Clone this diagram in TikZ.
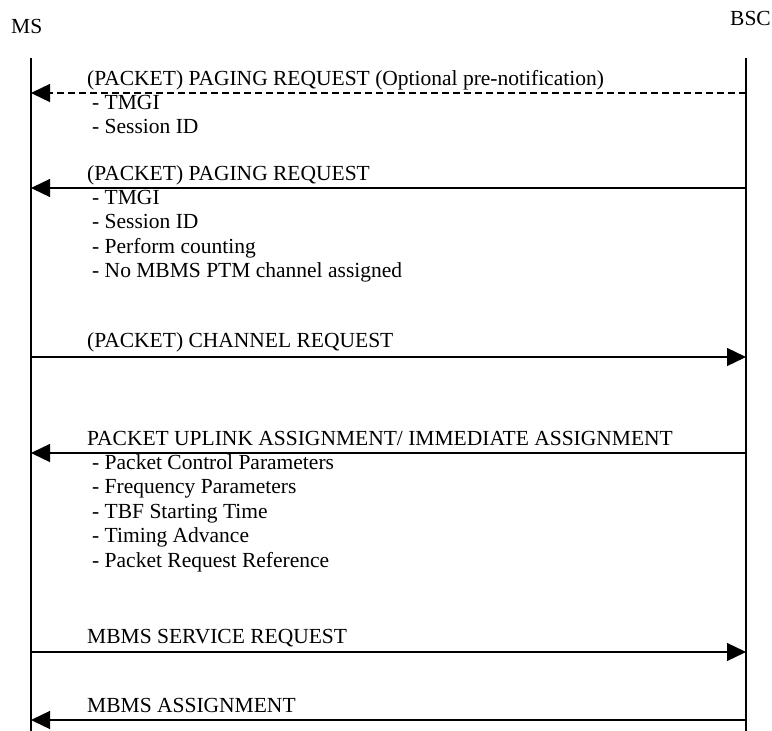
\documentclass[tikz,border=0pt]{standalone}
\usepackage{fontspec}
\setmainfont{Liberation Serif}
\usetikzlibrary{arrows.meta,positioning}

\tikzset{
  lifeline/.style={line width=1.3pt},
  msg/.style={line width=1.3pt, -{Triangle[length=19pt,width=18pt]}},
  optmsg/.style={msg, dash pattern=on 7pt off 4pt},
  lbl/.style={anchor=base west, inner sep=0pt, font=\fontsize{21.5}{24}\selectfont},
  nextline/.style={lbl, below=24.5pt of #1.base west, anchor=base west}
}

\begin{document}
\begin{tikzpicture}[x=1pt, y=-1pt]
\useasboundingbox (0,0) rectangle (772,731);

% entities
\node [lbl] (ms) at (11,33) {MS};
\node [lbl] (bsc) at (730,25) {BSC};
\coordinate (mstop) at (31,58);
\coordinate (msbot) at (31,731);
\coordinate (bsctop) at (746,58);
\coordinate (bscbot) at (746,731);
\draw [lifeline] (mstop) -- (msbot);
\draw [lifeline] (bsctop) -- (bscbot);

% optional pre-notification
\coordinate (ms1) at (31,93);
\coordinate (bsc1) at (746,93);
\draw [optmsg] (bsc1) -- (ms1);
\node [lbl] (pn) at (87,85) {(PACKET) PAGING REQUEST (Optional pre-notification)};
\node [lbl] (pn1) at (92,109) {- TMGI};
\node [nextline=pn1] (pn2) {- Session ID};

% paging
\coordinate (ms2) at (31,188);
\coordinate (bsc2) at (746,188);
\draw [msg] (bsc2) -- (ms2);
\node [lbl] (pg) at (87,180) {(PACKET) PAGING REQUEST};
\node [lbl] (pg1) at (92,204) {- TMGI};
\node [nextline=pg1] (pg2) {- Session ID};
\node [nextline=pg2] (pg3) {- Perform counting};
\node [nextline=pg3] (pg4) {- No MBMS PTM channel assigned};

% channel request
\coordinate (ms3) at (31,357);
\coordinate (bsc3) at (746,357);
\draw [msg] (ms3) -- (bsc3);
\node [lbl] (cr) at (87,347) {(PACKET) CHANNEL REQUEST};

% assignment
\coordinate (ms4) at (31,453);
\coordinate (bsc4) at (746,453);
\draw [msg] (bsc4) -- (ms4);
\node [lbl] (ua) at (87,445) {PACKET UPLINK ASSIGNMENT/ IMMEDIATE ASSIGNMENT};
\node [lbl] (ua1) at (92,469) {- Packet Control Parameters};
\node [nextline=ua1] (ua2) {- Frequency Parameters};
\node [nextline=ua2] (ua3) {- TBF Starting Time};
\node [nextline=ua3] (ua4) {- Timing Advance};
\node [nextline=ua4] (ua5) {- Packet Request Reference};

% service request
\coordinate (ms5) at (31,652);
\coordinate (bsc5) at (746,652);
\draw [msg] (ms5) -- (bsc5);
\node [lbl] (sr) at (87,643) {MBMS SERVICE REQUEST};

% mbms assignment
\coordinate (ms6) at (31,720);
\coordinate (bsc6) at (746,720);
\draw [msg] (bsc6) -- (ms6);
\node [lbl] (ma) at (87,712) {MBMS ASSIGNMENT};
\end{tikzpicture}
\end{document}
